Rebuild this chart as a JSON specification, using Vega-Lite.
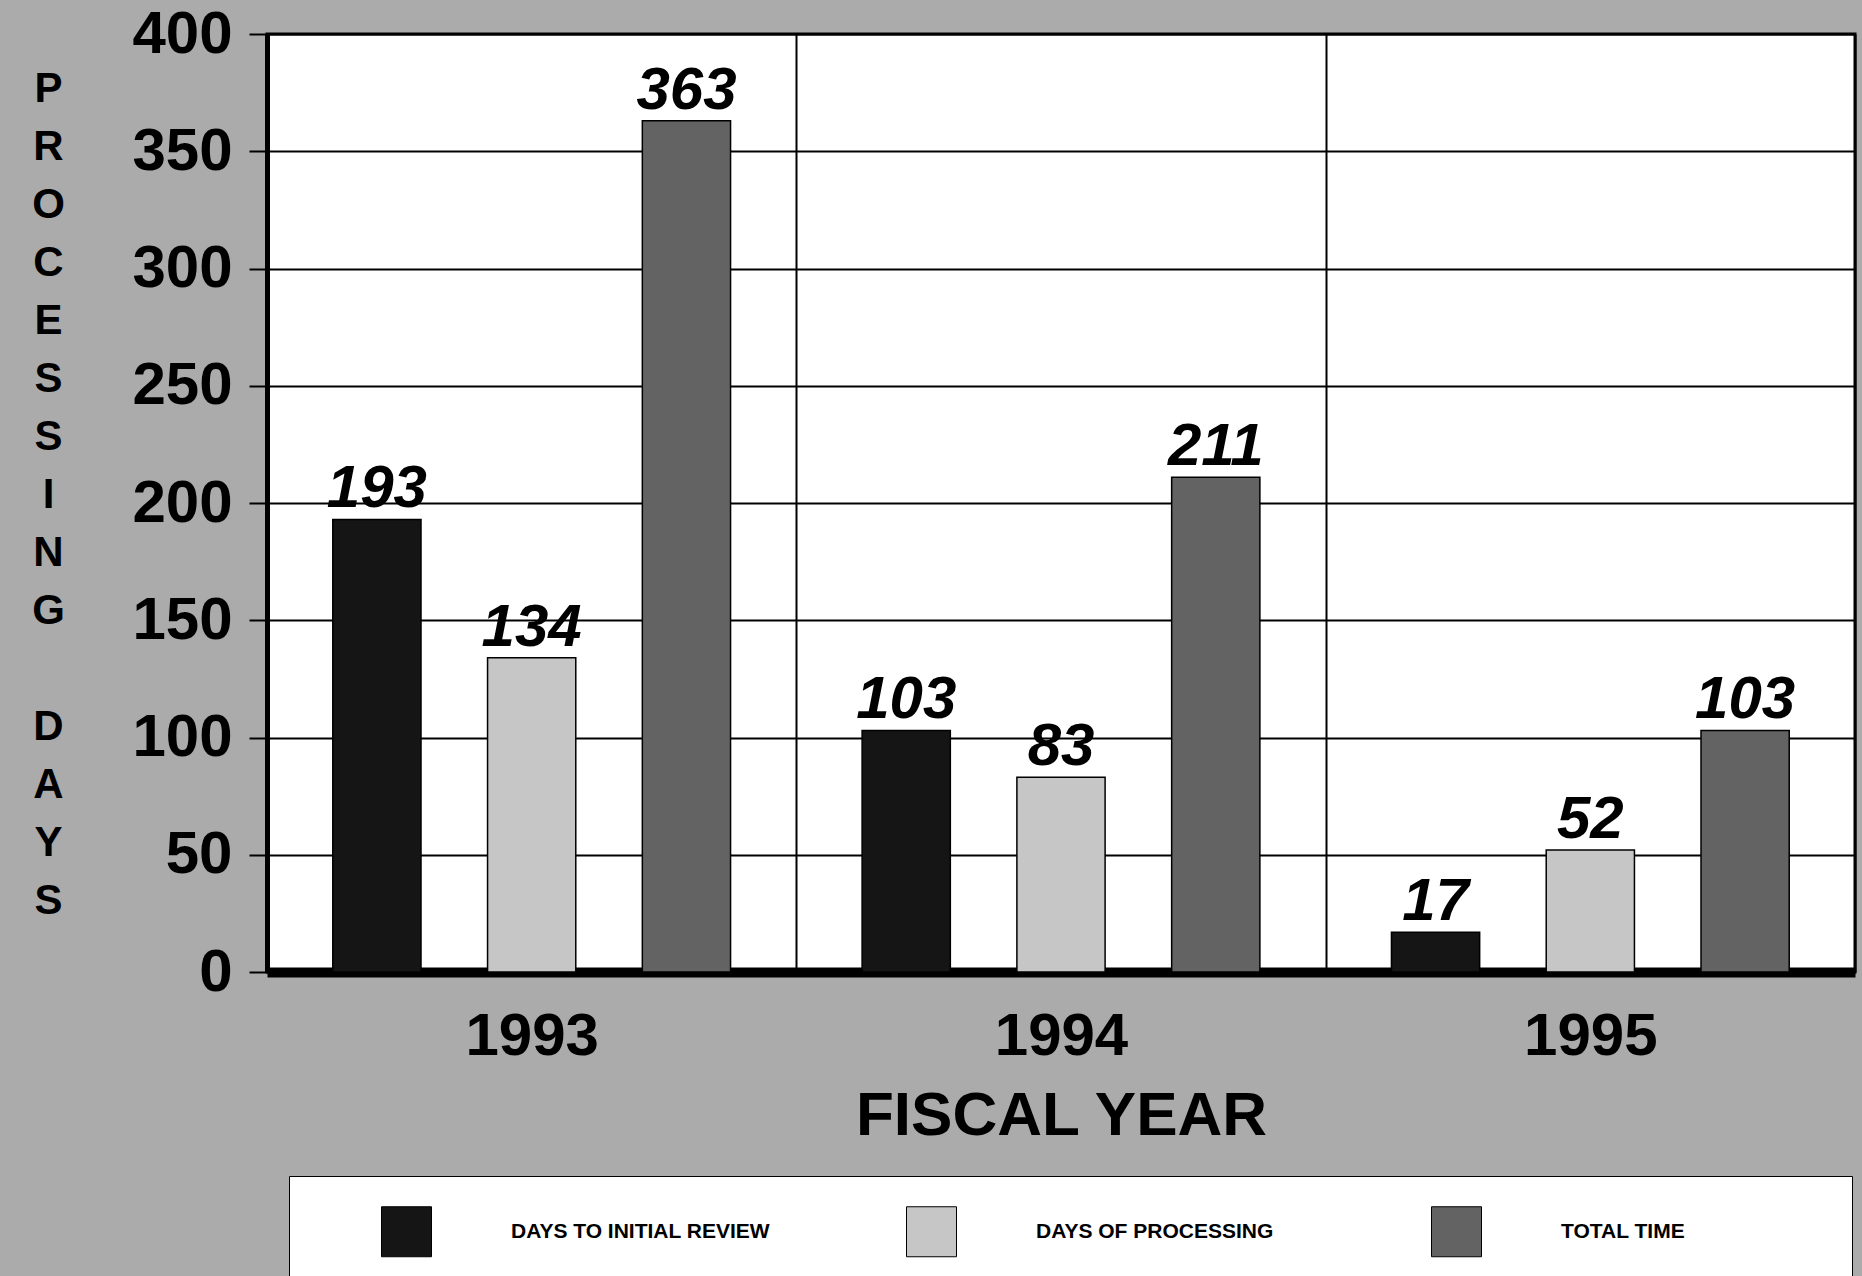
{
  "$schema": "https://vega.github.io/schema/vega-lite/v6.json",
  "width": 1588,
  "height": 938,
  "autosize": {"type": "none"},
  "padding": {"left": 267, "top": 34, "right": 7, "bottom": 304},
  "background": "#ababab",
  "config": {
    "view": {"fill": "white", "stroke": "black", "strokeWidth": 3},
    "font": "Liberation Sans"
  },
  "data": {
    "values": [
      {"year": "1993", "series": "DAYS TO INITIAL REVIEW", "days": 193},
      {"year": "1993", "series": "DAYS OF PROCESSING", "days": 134},
      {"year": "1993", "series": "TOTAL TIME", "days": 363},
      {"year": "1994", "series": "DAYS TO INITIAL REVIEW", "days": 103},
      {"year": "1994", "series": "DAYS OF PROCESSING", "days": 83},
      {"year": "1994", "series": "TOTAL TIME", "days": 211},
      {"year": "1995", "series": "DAYS TO INITIAL REVIEW", "days": 17},
      {"year": "1995", "series": "DAYS OF PROCESSING", "days": 52},
      {"year": "1995", "series": "TOTAL TIME", "days": 103}
    ]
  },
  "encoding": {
    "x": {
      "field": "year",
      "type": "nominal",
      "scale": {"paddingInner": 0, "paddingOuter": 0},
      "axis": {
        "title": "FISCAL YEAR",
        "titleFontSize": 62,
        "titleFontWeight": "bold",
        "titleColor": "black",
        "titleBaseline": "alphabetic",
        "titleY": 162,
        "labelAngle": 0,
        "labelFontSize": 60,
        "labelFontWeight": "bold",
        "labelColor": "black",
        "labelBaseline": "alphabetic",
        "labelPadding": 82,
        "ticks": false,
        "tickBand": "extent",
        "grid": true,
        "gridColor": "black",
        "gridWidth": 2,
        "gridOpacity": 1,
        "domainColor": "black",
        "domainWidth": 10
      }
    },
    "xOffset": {
      "field": "series",
      "type": "nominal",
      "scale": {
        "domain": ["DAYS TO INITIAL REVIEW", "DAYS OF PROCESSING", "TOTAL TIME"],
        "paddingInner": 0.43,
        "paddingOuter": 0.425
      }
    },
    "y": {
      "field": "days",
      "type": "quantitative",
      "scale": {"domain": [0, 400], "nice": false},
      "axis": {
        "values": [0, 50, 100, 150, 200, 250, 300, 350, 400],
        "title": ["P", "R", "O", "C", "E", "S", "S", "I", "N", "G", "\u200b", "D", "A", "Y", "S"],
        "titleAngle": 0,
        "titleAlign": "center",
        "titleBaseline": "top",
        "titleX": -219,
        "titleY": 34,
        "titleFontSize": 42,
        "titleLineHeight": 58,
        "titleFontWeight": "bold",
        "titleColor": "black",
        "labelFontSize": 60,
        "labelFontWeight": "bold",
        "labelColor": "black",
        "labelPadding": 17,
        "ticks": true,
        "tickSize": 18,
        "tickWidth": 2,
        "tickColor": "black",
        "grid": true,
        "gridColor": "black",
        "gridWidth": 2,
        "gridOpacity": 1,
        "domainColor": "black",
        "domainWidth": 5
      }
    }
  },
  "layer": [
    {
      "mark": {"type": "bar", "stroke": "black", "strokeWidth": 1.5},
      "encoding": {
        "color": {
          "field": "series",
          "type": "nominal",
          "scale": {
            "domain": ["DAYS TO INITIAL REVIEW", "DAYS OF PROCESSING", "TOTAL TIME"],
            "range": ["#151515", "#c6c6c6", "#636363"]
          },
          "legend": {
            "orient": "none",
            "legendX": 22,
            "legendY": 1142,
            "direction": "horizontal",
            "title": " ",
            "titleOrient": "left",
            "titlePadding": 62,
            "padding": 30,
            "fillColor": "white",
            "strokeColor": "black",
            "gridAlign": "all",
            "columnPadding": 132,
            "symbolType": "square",
            "symbolSize": 2500,
            "symbolStrokeColor": "black",
            "symbolStrokeWidth": 1,
            "symbolOpacity": 1,
            "labelOffset": 79,
            "labelExpr": "datum.label == 'TOTAL TIME' ? datum.label + '\u2003\u2003\u2003\u2003\u2003\u2003\u2002\u200b' : datum.label",
            "labelFont": "Liberation Sans",
            "labelFontWeight": "bold",
            "labelFontSize": 21,
            "labelColor": "black",
            "labelLimit": 0
          }
        }
      }
    },
    {
      "mark": {
        "type": "text",
        "dy": -12,
        "baseline": "alphabetic",
        "fontSize": 60,
        "fontStyle": "italic",
        "fontWeight": "bold",
        "color": "black"
      },
      "encoding": {"text": {"field": "days", "type": "quantitative"}}
    }
  ]
}
